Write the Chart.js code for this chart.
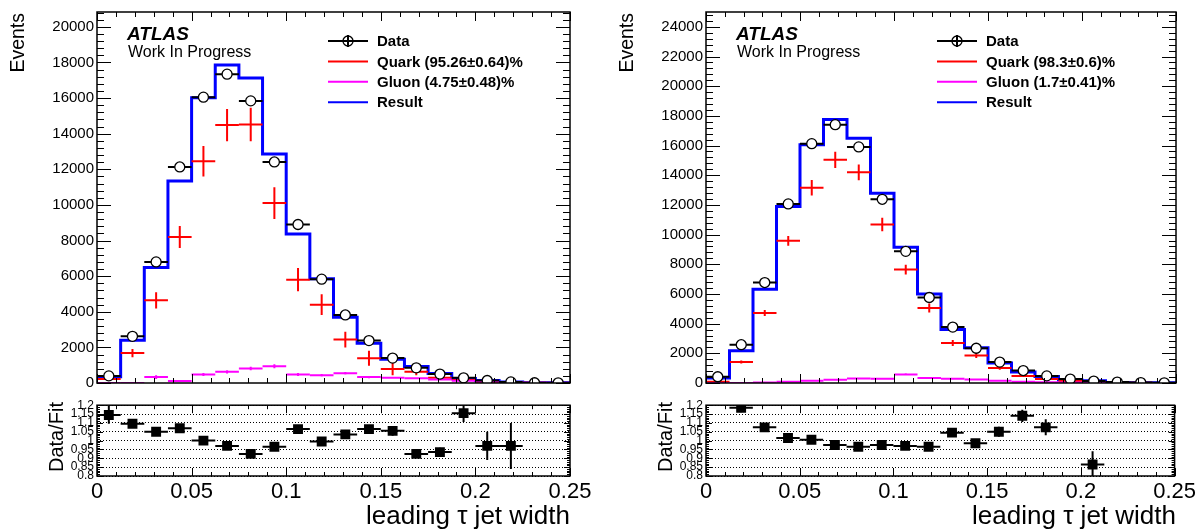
<!DOCTYPE html>
<html>
<head>
<meta charset="utf-8">
<script src="https://cdn.jsdelivr.net/npm/chart.js@4.4.1/dist/chart.umd.min.js"></script>
<style>
  body { margin: 0; background: #fff; width: 1199px; height: 532px; overflow: hidden; position: relative; }
  canvas { position: absolute; }
</style>
</head>
<body>
<canvas id="leftMain" width="600" height="395" style="left:0;top:0"></canvas>
<canvas id="leftRatio" width="600" height="137" style="left:0;top:395px"></canvas>
<canvas id="rightMain" width="599" height="395" style="left:600px;top:0"></canvas>
<canvas id="rightRatio" width="599" height="137" style="left:600px;top:395px"></canvas>
<script>
// bins of leading tau jet width
const binEdges = [0, 0.0125, 0.025, 0.0375, 0.05, 0.0625, 0.075, 0.0875, 0.1, 0.1125, 0.125,
  0.1375, 0.15, 0.1625, 0.175, 0.1875, 0.2, 0.2125, 0.225, 0.2375, 0.25];

// tick labels
const xTicks = [0, 0.05, 0.1, 0.15, 0.2, 0.25];
const leftYTicks = [0, 2000, 4000, 6000, 8000, 10000, 12000, 14000, 16000, 18000, 20000];
const rightYTicks = [0, 2000, 4000, 6000, 8000, 10000, 12000, 14000, 16000, 18000, 20000, 22000, 24000];
const ratioTicks = [0.8, 0.85, 0.9, 0.95, 1, 1.05, 1.1, 1.15, 1.2];

// left panel
const leftData = [400, 2620, 6800, 12130, 16050, 17340, 15840, 12410, 8900, 5830, 3820, 2380, 1400, 850, 500, 290, 140, 60, 15, 10];
const leftDataErr = [20, 51, 82, 110, 127, 132, 126, 111, 94, 76, 62, 49, 37, 29, 22, 17, 12, 8, 4, 3];
const leftQuark = [220, 1680, 4640, 8200, 12450, 14480, 14510, 10100, 5800, 4400, 2440, 1390, 780, 630, 290, 170, 60, 30, 10, 5];
const leftQuarkErr = [100, 230, 460, 620, 850, 900, 940, 890, 650, 580, 440, 415, 350, 190, 110, 80, 50, 30, 15, 10];
const leftGluon = [0, 0, 330, 110, 480, 630, 810, 940, 480, 440, 550, 330, 290, 260, 200, 130, 80, 40, 20, 10];
const leftGluonErr = [0, 0, 100, 60, 80, 90, 100, 110, 80, 70, 70, 60, 50, 40, 30, 25, 20, 10, 5, 5];
const leftResult = [350, 2400, 6480, 11340, 16010, 17850, 17120, 12860, 8360, 5860, 3690, 2230, 1330, 920, 535, 250, 145, 62, 15, 8];
const leftRatio = [1.145, 1.095, 1.05, 1.07, 1.0, 0.97, 0.925, 0.965, 1.065, 0.995, 1.035, 1.065, 1.055, 0.925, 0.935, 1.155, 0.97, 0.97, null, null];
const leftRatioErr = [0.05, 0.012, 0.008, 0.007, 0.006, 0.006, 0.006, 0.007, 0.009, 0.012, 0.016, 0.02, 0.028, 0.02, 0.025, 0.05, 0.08, 0.13, 0, 0];
const leftLabels = ['Data', 'Quark (95.26\u00b10.64)%', 'Gluon (4.75\u00b10.48)%', 'Result'];

// right panel
const rightData = [420, 2580, 6770, 12070, 16130, 17410, 15910, 12380, 8870, 5760, 3770, 2340, 1410, 840, 480, 265, 130, 60, 30, 15];
const rightDataErr = [20, 51, 82, 110, 127, 132, 126, 111, 94, 76, 61, 48, 38, 29, 22, 16, 11, 8, 5, 4];
const rightQuark = [90, 1410, 4720, 9580, 13160, 15040, 14200, 10680, 7640, 5050, 2690, 1850, 1010, 480, 265, 130, 60, 30, 10, 5];
const rightQuarkErr = [40, 100, 200, 330, 520, 550, 530, 450, 330, 300, 200, 170, 120, 80, 60, 40, 25, 15, 8, 5];
const rightGluon = [0, 0, 30, 80, 150, 220, 310, 290, 580, 330, 290, 230, 160, 90, 50, 30, 15, 8, 4, 2];
const rightGluonErr = [0, 0, 20, 30, 40, 50, 60, 60, 80, 60, 50, 40, 30, 20, 15, 10, 8, 5, 3, 2];
const rightResult = [330, 2180, 6310, 11890, 16050, 17760, 16490, 12780, 9140, 5990, 3610, 2370, 1345, 737, 446, 200, 150, 40, 20, 10];
const rightRatio = [null, 1.185, 1.075, 1.015, 1.005, 0.975, 0.965, 0.975, 0.97, 0.965, 1.045, 0.985, 1.05, 1.14, 1.075, null, 0.865, null, null, null];
const rightRatioErr = [0, 0.025, 0.013, 0.01, 0.008, 0.008, 0.008, 0.009, 0.011, 0.014, 0.018, 0.022, 0.028, 0.035, 0.045, 0, 0.075, 0, 0, 0];
const rightLabels = ['Data', 'Quark (98.3\u00b10.6)%', 'Gluon (1.7\u00b10.41)%', 'Result'];

const FONT = "'Liberation Sans', Arial, sans-serif";
Chart.defaults.font.family = FONT;
Chart.defaults.color = '#000';

const centers = binEdges.slice(0, -1).map((e, i) => (e + binEdges[i + 1]) / 2);
const halfBin = (binEdges[1] - binEdges[0]) / 2;
const pts = vals => vals.map((v, i) => ({ x: centers[i], y: v }));
// histogram outline: two points per bin
const stepPts = vals => vals.flatMap((v, i) => [{ x: binEdges[i], y: v }, { x: binEdges[i + 1], y: v }]);
const fixTicks = list => s => { s.ticks = list.map(v => ({ value: v })); };

// error bars, drawn just before the dataset's markers
const errorBars = {
  id: 'errorBars',
  beforeDatasetDraw(chart, args) {
    const ds = chart.data.datasets[args.index];
    if (!ds.errY) return;
    const { ctx, chartArea: a, scales: { x, y } } = chart;
    ctx.save();
    ctx.beginPath();
    ctx.rect(a.left, a.top, a.right - a.left, a.bottom - a.top);
    ctx.clip();
    ctx.strokeStyle = ds.barColor;
    ctx.lineWidth = ds.barWidth;
    ds.data.forEach((p, i) => {
      if (p.y === null) return;
      const px = x.getPixelForValue(p.x), py = y.getPixelForValue(p.y);
      ctx.beginPath();
      ctx.moveTo(x.getPixelForValue(p.x - halfBin), py);
      ctx.lineTo(x.getPixelForValue(p.x + halfBin), py);
      if (ds.errY[i] > 0) {
        ctx.moveTo(px, y.getPixelForValue(p.y - ds.errY[i]));
        ctx.lineTo(px, y.getPixelForValue(p.y + ds.errY[i]));
      }
      ctx.stroke();
    });
    ctx.restore();
  }
};

// ROOT-style frame with inward ticks on all four sides
const rootFrame = {
  id: 'rootFrame',
  afterDraw(chart, args, o) {
    const { ctx, chartArea: a, scales: { x, y } } = chart;
    const isMajor = (v, step) => Math.abs(v / step - Math.round(v / step)) < 1e-6;
    ctx.save();
    ctx.strokeStyle = '#000';
    ctx.lineWidth = 1;
    ctx.beginPath();
    const nx = Math.round((x.max - x.min) / o.xMinor);
    for (let i = 0; i <= nx; i++) {
      const v = x.min + i * o.xMinor;
      const len = isMajor(v, o.xMajor) ? o.xLen[0] : o.xLen[1];
      const px = Math.round(x.getPixelForValue(v)) + 0.5;
      ctx.moveTo(px, a.bottom); ctx.lineTo(px, a.bottom - len);
      ctx.moveTo(px, a.top); ctx.lineTo(px, a.top + len);
    }
    const ny = Math.floor((y.max - y.min) / o.yMinor + 1e-6);
    for (let i = 0; i <= ny; i++) {
      const v = y.min + i * o.yMinor;
      const len = isMajor(v, o.yMajor) ? o.yLen[0] : o.yLen[1];
      const py = Math.round(y.getPixelForValue(v)) + 0.5;
      ctx.moveTo(a.left, py); ctx.lineTo(a.left + len, py);
      ctx.moveTo(a.right, py); ctx.lineTo(a.right - len, py);
    }
    ctx.stroke();
    ctx.lineWidth = 1.5;
    ctx.strokeRect(a.left, a.top, a.right - a.left, a.bottom - a.top);
    ctx.restore();
  }
};

// free text and the legend box
const rootText = {
  id: 'rootText',
  afterDraw(chart, args, o) {
    const ctx = chart.ctx;
    (o.items || []).forEach(t => {
      ctx.save();
      ctx.font = t.font;
      ctx.fillStyle = '#000';
      ctx.textAlign = t.align || 'left';
      ctx.textBaseline = 'alphabetic';
      ctx.translate(t.x, t.y);
      if (t.rot) ctx.rotate(t.rot);
      ctx.fillText(t.text, 0, 0);
      ctx.restore();
    });
    const lg = o.legend;
    if (!lg) return;
    const colors = ['#000', '#ff0000', '#ff00ff', '#0000ff'];
    lg.labels.forEach((lab, i) => {
      const yy = lg.y + i * lg.dy;
      ctx.save();
      ctx.strokeStyle = colors[i];
      ctx.lineWidth = 2;
      ctx.beginPath();
      ctx.moveTo(lg.x, yy); ctx.lineTo(lg.x + 40, yy);
      if (i === 0) { ctx.moveTo(lg.x + 20, yy - 6); ctx.lineTo(lg.x + 20, yy + 6); }
      ctx.stroke();
      if (i === 0) {
        ctx.lineWidth = 1.3;
        ctx.beginPath();
        ctx.arc(lg.x + 20, yy, 5, 0, Math.PI * 2);
        ctx.stroke();
      }
      ctx.fillStyle = '#000';
      ctx.font = 'bold 15px ' + FONT;
      ctx.textBaseline = 'middle';
      ctx.fillText(lab, lg.x + 49, yy + 1);
      ctx.restore();
    });
  }
};

function mainChart(id, p) {
  return new Chart(document.getElementById(id), {
    type: 'scatter',
    data: {
      datasets: [
        { label: 'Data', data: pts(p.data), errY: p.dataErr, barColor: '#000', barWidth: 2,
          pointRadius: 5, pointBackgroundColor: '#fff', pointBorderColor: '#000', pointBorderWidth: 1.3 },
        { label: 'Gluon', data: pts(p.gluon), errY: p.gluonErr, barColor: '#ff00ff', barWidth: 2, pointRadius: 0 },
        { label: 'Quark', data: pts(p.quark), errY: p.quarkErr, barColor: '#ff0000', barWidth: 2, pointRadius: 0 },
        { label: 'Result', data: stepPts(p.result), showLine: true, borderColor: '#0000ff', borderWidth: 3,
          pointRadius: 0, tension: 0 }
      ]
    },
    options: {
      responsive: false, animation: false, events: [],
      layout: { padding: { top: 12, bottom: 7, right: p.padRight, left: 0 } },
      scales: {
        x: { type: 'linear', display: false, min: 0, max: 0.25 },
        y: {
          min: 0, max: p.ymax,
          afterFit: s => { s.width = p.axisWidth; },
          afterBuildTicks: fixTicks(p.yTicks),
          grid: { display: false, drawTicks: false },
          border: { display: false },
          ticks: { autoSkip: false, padding: 3, font: { size: 15 }, callback: v => String(v) }
        }
      },
      plugins: {
        legend: { display: false }, tooltip: { enabled: false },
        rootFrame: { xMajor: 0.05, xMinor: 0.01, yMajor: 2000, yMinor: 400, xLen: [9, 5], yLen: [14, 7] },
        rootText: {
          items: [
            { text: 'ATLAS', x: p.axisWidth + 30, y: 40, font: 'italic bold 19px ' + FONT },
            { text: 'Work In Progress', x: p.axisWidth + 31, y: 57, font: '16px ' + FONT },
            { text: 'Events', x: p.axisWidth - 73, y: 13, font: '19.5px ' + FONT, align: 'right', rot: -Math.PI / 2 }
          ],
          legend: { x: p.axisWidth + 231, y: 41, dy: 20.4, labels: p.labels }
        }
      }
    },
    plugins: [errorBars, rootFrame, rootText]
  });
}

function ratioChart(id, p) {
  return new Chart(document.getElementById(id), {
    type: 'scatter',
    data: {
      datasets: [
        { label: 'Data/Fit', data: pts(p.ratio), errY: p.ratioErr, barColor: '#000', barWidth: 2,
          pointStyle: 'rect', pointRadius: 7, pointBackgroundColor: '#000', pointBorderColor: '#000', pointBorderWidth: 0 }
      ]
    },
    options: {
      responsive: false, animation: false, events: [],
      layout: { padding: { top: 7, bottom: 0, right: p.padRight, left: 0 } },
      scales: {
        x: {
          type: 'linear', min: 0, max: 0.25,
          afterFit: s => { s.height = 56; },
          afterBuildTicks: fixTicks(xTicks),
          grid: { display: false, drawTicks: false },
          border: { display: false },
          ticks: { padding: 3, maxRotation: 0, autoSkip: false, font: { size: 22 }, callback: v => String(v) }
        },
        y: {
          min: 0.8, max: 1.2,
          afterFit: s => { s.width = p.axisWidth; },
          afterBuildTicks: fixTicks(ratioTicks),
          grid: { display: true, color: '#000', lineWidth: 1, drawTicks: false },
          border: { display: false, dash: [1, 2] },
          ticks: { autoSkip: false, padding: 3, font: { size: 12 }, callback: v => String(v) }
        }
      },
      plugins: {
        legend: { display: false }, tooltip: { enabled: false },
        rootFrame: { xMajor: 0.05, xMinor: 0.01, yMajor: 0.05, yMinor: 0.01, xLen: [8, 4], yLen: [6, 3] },
        rootText: {
          items: [
            { text: 'Data/Fit', x: p.axisWidth - 34, y: 42, font: '20px ' + FONT, align: 'center', rot: -Math.PI / 2 },
            { text: 'leading \u03c4 jet width', x: p.frameRight, y: 129, font: '26px ' + FONT, align: 'right' }
          ]
        }
      }
    },
    plugins: [errorBars, rootFrame, rootText]
  });
}

mainChart('leftMain', { data: leftData, dataErr: leftDataErr, quark: leftQuark, quarkErr: leftQuarkErr,
  gluon: leftGluon, gluonErr: leftGluonErr, result: leftResult, ymax: 20830, yTicks: leftYTicks,
  labels: leftLabels, axisWidth: 97, padRight: 30 });
ratioChart('leftRatio', { ratio: leftRatio, ratioErr: leftRatioErr, axisWidth: 97, padRight: 30, frameRight: 570 });

mainChart('rightMain', { data: rightData, dataErr: rightDataErr, quark: rightQuark, quarkErr: rightQuarkErr,
  gluon: rightGluon, gluonErr: rightGluonErr, result: rightResult, ymax: 25000, yTicks: rightYTicks,
  labels: rightLabels, axisWidth: 106, padRight: 23 });
ratioChart('rightRatio', { ratio: rightRatio, ratioErr: rightRatioErr, axisWidth: 106, padRight: 23, frameRight: 576 });
</script>
</body>
</html>
